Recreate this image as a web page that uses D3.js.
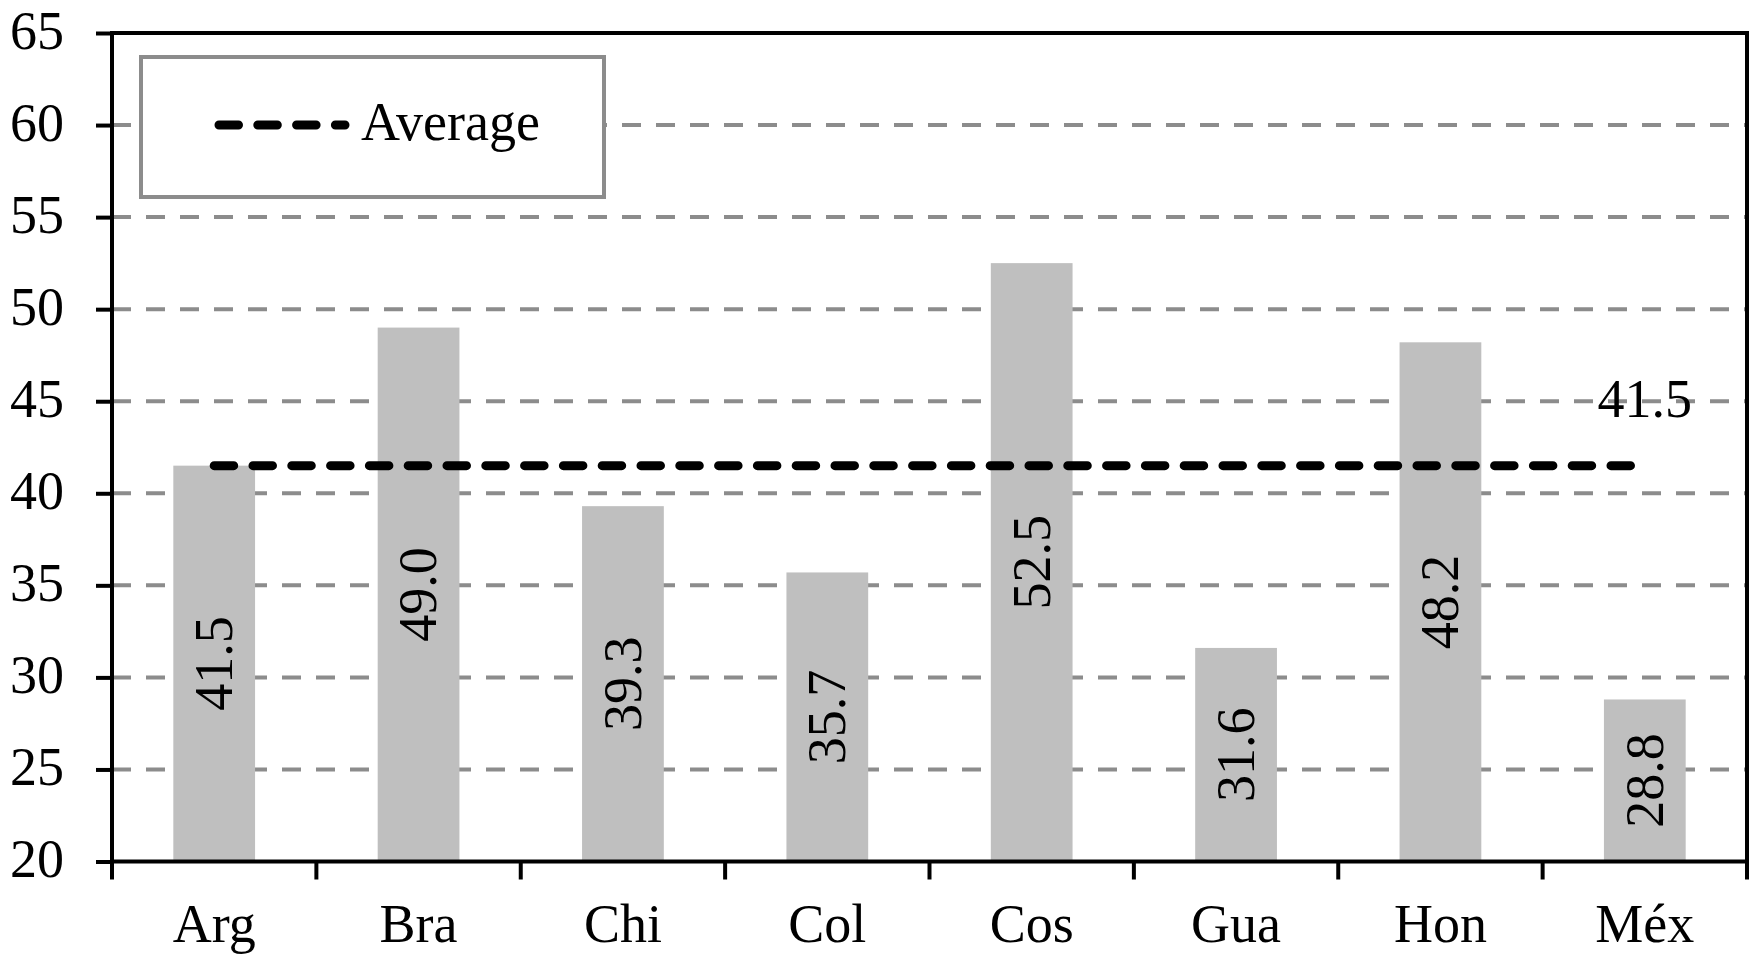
<!DOCTYPE html>
<html>
<head>
<meta charset="utf-8">
<script src="https://cdn.jsdelivr.net/npm/d3@7"></script>
<style>
  html, body { margin: 0; padding: 0; background: #fff; }
  svg { display: block; }
  svg text { font-family: "Liberation Serif", "Times New Roman", serif; fill: #000; }
</style>
</head>
<body>
<svg id="chart" width="1753" height="955"></svg>
<script>
// Country codes and their index values
const countries = ["Arg", "Bra", "Chi", "Col", "Cos", "Gua", "Hon", "Méx"];
const values = [41.5, 49.0, 39.3, 35.7, 52.5, 31.6, 48.2, 28.8];
const average = 41.5;
const yTicks = [20, 25, 30, 35, 40, 45, 50, 55, 60, 65];
const gridTicks = [25, 30, 35, 40, 45, 50, 55, 60];
const legendLabel = "Average";

const svg = d3.select("#chart");
const plotL = 112, plotR = 1747, plotT = 33, plotB = 861.5;
const fontSize = 54;
const serif = '"Liberation Serif", "Times New Roman", serif';

const y = d3.scaleLinear().domain([20, 65]).range([plotB, plotT]);
const x = d3.scaleBand().domain(countries).range([plotL, plotR])
  .paddingInner(0.6).paddingOuter(0.3);
const xCell = d3.scaleBand().domain(countries).range([plotL, plotR]).padding(0);

// Dashed horizontal gridlines
svg.append("g").selectAll("line").data(gridTicks).join("line")
  .attr("x1", plotL).attr("x2", plotR)
  .attr("y1", d => y(d)).attr("y2", d => y(d))
  .attr("stroke", "#8c8c8c").attr("stroke-width", 4)
  .attr("stroke-dasharray", "19 15");

// Bars
svg.append("g").selectAll("rect").data(countries).join("rect")
  .attr("x", d => x(d))
  .attr("width", x.bandwidth())
  .attr("y", (d, i) => y(values[i]))
  .attr("height", (d, i) => y(20) - y(values[i]))
  .attr("fill", "#bfbfbf");

// Rotated value labels centred in each bar
svg.append("g").selectAll("text").data(countries).join("text")
  .attr("transform", (d, i) => {
    const cx = x(d) + x.bandwidth() / 2;
    const cy = (y(values[i]) + y(20)) / 2;
    return `translate(${cx},${cy}) rotate(-90)`;
  })
  .attr("text-anchor", "middle")
  .attr("dy", "0.33em")
  .style("font-family", serif)
  .style("font-size", fontSize + "px")
  .text((d, i) => values[i].toFixed(1));

// Average line across the category centres
const firstC = x(countries[0]) + x.bandwidth() / 2;
const lastC = x(countries[countries.length - 1]) + x.bandwidth() / 2;
svg.append("line")
  .attr("x1", firstC).attr("x2", lastC)
  .attr("y1", y(average)).attr("y2", y(average))
  .attr("stroke", "#000").attr("stroke-width", 9)
  .attr("stroke-linecap", "round")
  .attr("stroke-dasharray", "19.5 19.3");

svg.append("text")
  .attr("x", lastC).attr("y", y(average) - 49)
  .attr("text-anchor", "middle")
  .style("font-family", serif)
  .style("font-size", fontSize + "px")
  .text(average.toFixed(1));

// Legend
const lg = svg.append("g");
lg.append("rect")
  .attr("x", 141).attr("y", 57).attr("width", 463).attr("height", 140)
  .attr("fill", "#fff").attr("stroke", "#8c8c8c").attr("stroke-width", 4);
lg.append("line")
  .attr("x1", 219).attr("x2", 345).attr("y1", y(60)).attr("y2", y(60))
  .attr("stroke", "#000").attr("stroke-width", 9)
  .attr("stroke-linecap", "round")
  .attr("stroke-dasharray", "19.5 19.3");
lg.append("text")
  .attr("x", 361).attr("y", 140)
  .style("font-family", serif)
  .style("font-size", fontSize + "px")
  .text(legendLabel);

// Y axis ticks and labels
const yAxis = svg.append("g")
  .attr("transform", `translate(${plotL},0)`)
  .call(d3.axisLeft(y).tickValues(yTicks).tickSize(16).tickPadding(32));
yAxis.select(".domain").remove();
yAxis.attr("font-family", null).attr("font-size", null);
yAxis.selectAll(".tick line").attr("stroke", "#000").attr("stroke-width", 4);
yAxis.selectAll(".tick text")
  .style("font-family", serif)
  .style("font-size", fontSize + "px")
  .attr("dy", "0.28em");

// X axis: ticks on category boundaries, labels centred
const bounds = countries.map(c => xCell(c)).concat([plotR]);
svg.append("g").selectAll("line").data(bounds).join("line")
  .attr("x1", d => d).attr("x2", d => d)
  .attr("y1", plotB).attr("y2", plotB + 18)
  .attr("stroke", "#000").attr("stroke-width", 4);
svg.append("g").selectAll("text").data(countries).join("text")
  .attr("x", d => xCell(d) + xCell.bandwidth() / 2)
  .attr("y", 942)
  .attr("text-anchor", "middle")
  .style("font-family", serif)
  .style("font-size", fontSize + "px")
  .text(d => d);

// Plot frame
svg.append("rect")
  .attr("x", plotL).attr("y", plotT)
  .attr("width", plotR - plotL).attr("height", plotB - plotT)
  .attr("fill", "none").attr("stroke", "#000").attr("stroke-width", 4);
</script>
</body>
</html>
